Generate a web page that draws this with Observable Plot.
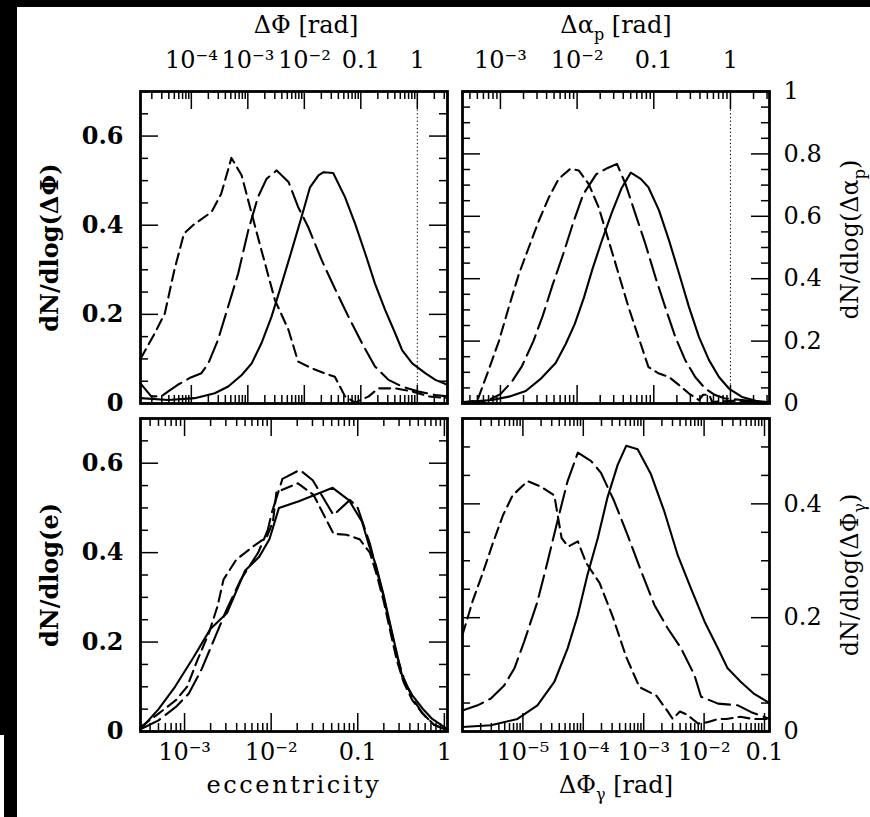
<!DOCTYPE html>
<html><head><meta charset="utf-8">
<script src="https://cdn.jsdelivr.net/npm/d3@7"></script>
<script src="https://cdn.jsdelivr.net/npm/@observablehq/plot@0.6"></script>
<style>
body{margin:0;background:#fff;}
#fig{position:relative;width:870px;height:817px;overflow:hidden;background:#fff;}
.pw{position:absolute;}
.pw svg{display:block;max-width:none;overflow:visible;}
.blk{position:absolute;background:#000;}
</style></head><body>
<div id="fig"></div>
<script>
// ---------- data (x values in native units, y = dN/dlog) ----------
const tlSolid = [[1.26e-5,0.012],[3.9e-5,0.008],[1.15e-4,0.012],[2.6e-4,0.023],[4.5e-4,0.038],[7.8e-4,0.064],[1.17e-3,0.090],[1.74e-3,0.135],[2.63e-3,0.195],[3.98e-3,0.269],[6.0e-3,0.344],[8.9e-3,0.418],[0.0126,0.485],[0.0178,0.512],[0.0219,0.519],[0.0324,0.517],[0.0525,0.463],[0.0794,0.403],[0.120,0.336],[0.178,0.269],[0.269,0.210],[0.407,0.157],[0.537,0.120],[0.813,0.090],[1.38,0.068],[2.09,0.053],[3.4,0.042]];
const tlLong = [[1.26e-5,0.045],[1.95e-5,0.016],[2.95e-5,0.016],[3.9e-5,0.027],[5.75e-5,0.042],[9.3e-5,0.057],[1.51e-4,0.068],[2.0e-4,0.090],[2.95e-4,0.142],[4.47e-4,0.217],[6.76e-4,0.292],[1.02e-3,0.389],[1.51e-3,0.463],[2.14e-3,0.504],[3.24e-3,0.523],[5.25e-3,0.497],[7.76e-3,0.441],[0.0117,0.396],[0.0204,0.321],[0.0347,0.258],[0.0603,0.195],[0.105,0.135],[0.178,0.083],[0.309,0.053],[0.537,0.038],[1.05,0.027],[2.09,0.019],[3.4,0.016]];
const tlShort = [[1.26e-5,0.10],[2.24e-5,0.157],[3.39e-5,0.202],[5.0e-5,0.299],[7.4e-5,0.381],[1.07e-4,0.400],[2.29e-4,0.430],[3.39e-4,0.471],[5.13e-4,0.551],[7.76e-4,0.512],[1.17e-3,0.426],[1.74e-3,0.344],[3.02e-3,0.232],[5.25e-3,0.165],[7.76e-3,0.094],[0.0135,0.079],[0.0251,0.066],[0.0347,0.060],[0.0525,0.016],[0.0794,0.002],[0.138,0.016],[0.204,0.034],[0.407,0.034],[0.813,0.027],[1.58,0.016],[3.4,0.012]];

const trSolid = [[3.2e-4,0.005],[7.76e-4,0.011],[1.29e-3,0.022],[2.14e-3,0.040],[3.31e-3,0.078],[5.25e-3,0.13],[7.08e-3,0.19],[9.33e-3,0.255],[0.0123,0.34],[0.0158,0.43],[0.0209,0.52],[0.0282,0.61],[0.0380,0.69],[0.0501,0.74],[0.0676,0.72],[0.0851,0.693],[0.117,0.619],[0.158,0.523],[0.214,0.416],[0.288,0.309],[0.389,0.213],[0.525,0.139],[0.708,0.085],[0.955,0.048],[1.41,0.021],[2.14,0.009],[3.23,0.003]];
const trLong = [[3.2e-4,0.002],[6.31e-4,0.005],[1.0e-3,0.030],[1.41e-3,0.070],[1.91e-3,0.12],[2.69e-3,0.20],[3.55e-3,0.28],[4.79e-3,0.38],[6.61e-3,0.48],[8.91e-3,0.58],[0.0120,0.67],[0.0178,0.735],[0.0251,0.755],[0.0331,0.768],[0.0427,0.704],[0.0575,0.608],[0.0776,0.512],[0.105,0.405],[0.141,0.309],[0.191,0.213],[0.257,0.139],[0.347,0.085],[0.468,0.048],[0.631,0.027],[0.851,0.016],[1.41,0.011],[3.23,0.004]];
const trShort = [[3.2e-4,0.002],[5.01e-4,0.01],[7.08e-4,0.11],[9.55e-4,0.20],[1.29e-3,0.31],[1.74e-3,0.415],[2.34e-3,0.50],[3.16e-3,0.585],[4.27e-3,0.66],[5.75e-3,0.72],[8.13e-3,0.752],[0.0105,0.747],[0.0141,0.704],[0.0191,0.629],[0.0257,0.523],[0.0347,0.416],[0.0468,0.309],[0.0631,0.213],[0.0851,0.117],[0.117,0.096],[0.158,0.085],[0.214,0.059],[0.288,0.032],[0.389,0.011],[0.44,0.028],[0.53,0.028],[0.575,0.005],[1.05,0.009],[1.74,0.005],[3.23,0.002]];

const blSolid = [[3.1e-4,0.005],[5.01e-4,0.05],[7.76e-4,0.10],[1.26e-3,0.165],[2.0e-3,0.23],[3.09e-3,0.265],[5.01e-3,0.36],[7.24e-3,0.39],[9.55e-3,0.43],[0.0123,0.50],[0.0209,0.515],[0.0513,0.545],[0.0794,0.517],[0.112,0.469],[0.135,0.416],[0.162,0.372],[0.195,0.312],[0.229,0.252],[0.275,0.185],[0.331,0.118],[0.427,0.081],[0.562,0.051],[0.724,0.028],[1.0,0.01],[1.08,0.004]];
const blLong = [[3.1e-4,0.005],[5.01e-4,0.025],[7.94e-4,0.055],[1.12e-3,0.085],[1.58e-3,0.14],[2.24e-3,0.21],[3.02e-3,0.27],[4.47e-3,0.34],[7.08e-3,0.40],[9.12e-3,0.45],[0.0102,0.49],[0.0135,0.565],[0.0214,0.585],[0.0302,0.562],[0.0525,0.484],[0.0813,0.518],[0.1,0.50],[0.138,0.42],[0.166,0.36],[0.20,0.30],[0.24,0.23],[0.282,0.17],[0.339,0.12],[0.427,0.075],[0.562,0.04],[0.759,0.015],[1.08,0.003]];
const blShort = [[3.1e-4,0.01],[5.01e-4,0.04],[7.94e-4,0.07],[1.07e-3,0.10],[1.41e-3,0.16],[1.91e-3,0.22],[2.40e-3,0.28],[2.82e-3,0.34],[3.98e-3,0.385],[6.31e-3,0.415],[8.91e-3,0.435],[0.0105,0.47],[0.0115,0.535],[0.0204,0.555],[0.0309,0.529],[0.0525,0.442],[0.0741,0.44],[0.105,0.43],[0.138,0.40],[0.166,0.35],[0.20,0.29],[0.24,0.22],[0.282,0.16],[0.339,0.11],[0.427,0.07],[0.562,0.04],[0.759,0.015],[1.08,0.003]];

const brSolid = [[1.0e-6,0.008],[2.95e-6,0.011],[8.13e-6,0.022],[1.74e-5,0.046],[3.31e-5,0.087],[5.50e-5,0.146],[8.13e-5,0.205],[1.17e-4,0.275],[1.74e-4,0.34],[2.51e-4,0.411],[3.72e-4,0.469],[5.13e-4,0.502],[7.94e-4,0.496],[1.32e-3,0.452],[2.19e-3,0.387],[3.63e-3,0.311],[6.03e-3,0.252],[0.0102,0.193],[0.0170,0.146],[0.0245,0.111],[0.0407,0.087],[0.0676,0.066],[0.121,0.050]];
const brLong = [[1.0e-6,0.037],[1.78e-6,0.046],[2.95e-6,0.058],[4.90e-6,0.081],[7.24e-6,0.111],[1.05e-5,0.158],[1.74e-5,0.228],[2.57e-5,0.299],[3.72e-5,0.369],[5.50e-5,0.44],[8.13e-5,0.49],[1.35e-4,0.475],[1.95e-4,0.455],[3.24e-4,0.405],[5.37e-4,0.346],[9.12e-4,0.281],[1.51e-3,0.222],[2.51e-3,0.181],[4.17e-3,0.146],[6.92e-3,0.099],[8.91e-3,0.061],[0.0170,0.049],[0.0363,0.046],[0.0603,0.034],[0.121,0.022]];
const brShort = [[1.0e-6,0.17],[1.48e-6,0.23],[2.19e-6,0.28],[3.16e-6,0.33],[4.68e-6,0.38],[6.76e-6,0.415],[1.20e-5,0.44],[2.0e-5,0.43],[3.31e-5,0.415],[4.37e-5,0.34],[5.62e-5,0.325],[8.13e-5,0.334],[1.12e-4,0.296],[1.86e-4,0.261],[3.09e-4,0.201],[5.13e-4,0.131],[8.51e-4,0.078],[1.62e-3,0.063],[2.51e-3,0.035],[3.02e-3,0.022],[3.98e-3,0.035],[5.13e-3,0.03],[7.94e-3,0.014],[0.011,0.016],[0.017,0.022],[0.0234,0.022],[0.0398,0.026],[0.0631,0.022],[0.121,0.022]];

// ---------- tick labels ----------
const tlXTicks = [1e-4, 1e-3, 1e-2, 0.1, 1];
const trXTicks = [1e-3, 1e-2, 0.1, 1];
const blXTicks = [1e-3, 1e-2, 0.1, 1];
const brXTicks = [1e-5, 1e-4, 1e-3, 1e-2, 0.1];
const tlYTicks = [0, 0.2, 0.4, 0.6];
const trYTicks = [0, 0.2, 0.4, 0.6, 0.8, 1];
const blYTicks = [0, 0.2, 0.4, 0.6];
const brYTicks = [0, 0.2, 0.4];

// ---------- labels ----------
const tlXTitle = "ΔΦ [rad]", trXTitle = "Δα_p [rad]", blXTitle = "eccentricity", brXTitle = "ΔΦ_γ [rad]";
const tlYTitle = "dN/dlog(ΔΦ)", trYTitle = "dN/dlog(Δα_p)", blYTitle = "dN/dlog(e)", brYTitle = "dN/dlog(ΔΦ_γ)";

const SUP = {"-":"⁻","0":"⁰","1":"¹","2":"²","3":"³","4":"⁴","5":"⁵","6":"⁶","7":"⁷","8":"⁸","9":"⁹"};
function fmtLog(v){
  const e = Math.round(Math.log10(v));
  if (e >= 0) return String(Math.round(v));
  if (e === -1) return "0.1";
  return "10" + String(e).split("").map(c => SUP[c]).join("");
}
function fmtLin(v){ return v === 0 ? "0" : v === 1 ? "1" : String(+v.toFixed(2)); }

const FONT = "DejaVu Serif";
const DASH = {solid: null, long: "22,7", short: "11,6"};

function panel(o){
  const fw = o.width - o.ml - o.mr, fh = o.height - o.mt - o.mb;
  const all = d3.scaleLog().domain(o.xDomain).ticks();
  const isMaj = v => Math.abs(Math.log10(v) - Math.round(Math.log10(v))) < 1e-6;
  const xMaj = all.filter(isMaj), xMin = all.filter(v => !isMaj(v));
  const yAll = d3.range(0, Math.round(o.yMax / 0.05) + 1).map(i => +(i * 0.05).toFixed(2));
  const yMaj = yAll.filter(v => Math.abs(v / 0.2 - Math.round(v / 0.2)) < 1e-6);
  const yMin = yAll.filter(v => !yMaj.includes(v));
  const MAJ = 18, MIN = 8;
  const ts = {stroke: "#000", strokeWidth: 1.5};
  const txt = {fontFamily: FONT, fontSize: 24, fill: "#000"};
  const marks = [
    Plot.tickX(xMaj, {x: d => d, insetTop: fh - MAJ, ...ts}),
    Plot.tickX(xMaj, {x: d => d, insetBottom: fh - MAJ, ...ts}),
    Plot.tickX(xMin, {x: d => d, insetTop: fh - MIN, ...ts}),
    Plot.tickX(xMin, {x: d => d, insetBottom: fh - MIN, ...ts}),
    Plot.tickY(yMaj, {y: d => d, insetRight: fw - MAJ, ...ts}),
    Plot.tickY(yMaj, {y: d => d, insetLeft: fw - MAJ, ...ts}),
    Plot.tickY(yMin, {y: d => d, insetRight: fw - MIN, ...ts}),
    Plot.tickY(yMin, {y: d => d, insetLeft: fw - MIN, ...ts})
  ];
  if (o.dotted) marks.push(Plot.ruleX([o.dotted], {x: d => d, stroke: "#000", strokeWidth: 1, strokeDasharray: "1.3,2.4"}));
  for (const [data, kind] of o.series) {
    const opt = {x: d => d[0], y: d => d[1], stroke: "#000", strokeWidth: 2.1, strokeLinejoin: "round"};
    if (DASH[kind]) opt.strokeDasharray = DASH[kind];
    marks.push(Plot.line(data, opt));
  }
  marks.push(Plot.frame({stroke: "#000", strokeWidth: 2.8}));
  const top = o.xSide === "top";
  marks.push(Plot.text(o.xTicks, {x: d => d, text: fmtLog, frameAnchor: o.xSide, textAnchor: "middle", dy: top ? -41 : 28, ...txt}));
  marks.push(Plot.text([o.xTitle], {text: d => d, frameAnchor: o.xSide, textAnchor: "middle", dy: top ? -76 : 61, dx: o.xTitleDx || 0, ...txt}));
  const left = o.ySide === "left";
  marks.push(Plot.text(o.yTicks, {y: d => d, text: fmtLin, frameAnchor: o.ySide, dx: left ? -17 : 14, textAnchor: left ? "end" : "start", fontWeight: left ? "bold" : "normal", ...txt}));
  marks.push(Plot.text([o.yTitle], {text: d => d, frameAnchor: o.ySide, textAnchor: "middle", dx: left ? -90 : 81, dy: o.yTitleDy || 0, rotate: -90, fontWeight: left ? "bold" : "normal", ...txt}));

  const svg = Plot.plot({
    width: o.width, height: o.height,
    marginLeft: o.ml, marginRight: o.mr, marginTop: o.mt, marginBottom: o.mb,
    x: {type: "log", domain: o.xDomain, axis: null},
    y: {type: "linear", domain: [0, o.yMax], axis: null},
    style: {background: "transparent", overflow: "visible"},
    marks
  });
  // subscripts and spacing
  svg.querySelectorAll("text").forEach(t => {
    const s = t.textContent;
    if (s === "eccentricity") t.setAttribute("letter-spacing", "2.6");
    if (!s.includes("_")) return;
    const i = s.indexOf("_");
    t.textContent = "";
    const mk = (str, attrs) => {
      const sp = document.createElementNS("http://www.w3.org/2000/svg", "tspan");
      sp.textContent = str;
      for (const k in attrs) sp.setAttribute(k, attrs[k]);
      t.appendChild(sp);
    };
    mk(s.slice(0, i), {});
    mk(s[i + 1], {dy: "7", "font-size": "16"});
    mk(s.slice(i + 2), {dy: "-7"});
  });
  const wrap = document.createElement("div");
  wrap.className = "pw";
  wrap.style.left = o.left + "px"; wrap.style.top = o.top + "px";
  wrap.style.width = o.width + "px"; wrap.style.height = o.height + "px";
  wrap.appendChild(svg);
  document.getElementById("fig").appendChild(wrap);
}

panel({left: 0, top: 0, width: 455, height: 410, ml: 140, mr: 8, mt: 91, mb: 7,
  xDomain: [1.26e-5, 3.42], yMax: 0.7, series: [[tlSolid, "solid"], [tlLong, "long"], [tlShort, "short"]],
  xTicks: tlXTicks, yTicks: tlYTicks, xSide: "top", ySide: "left", xTitle: tlXTitle, yTitle: tlYTitle, dotted: 1, xTitleDx: 12});
panel({left: 455, top: 0, width: 415, height: 410, ml: 7, mr: 101, mt: 91, mb: 7,
  xDomain: [3.2e-4, 3.23], yMax: 1.0, series: [[trSolid, "solid"], [trLong, "long"], [trShort, "short"]],
  xTicks: trXTicks, yTicks: trYTicks, xSide: "top", ySide: "right", xTitle: trXTitle, yTitle: trYTitle, dotted: 1, yTitleDy: -8});
panel({left: 0, top: 410, width: 455, height: 407, ml: 140, mr: 8, mt: 8, mb: 86,
  xDomain: [3.1e-4, 1.087], yMax: 0.7, series: [[blSolid, "solid"], [blLong, "long"], [blShort, "short"]],
  xTicks: blXTicks, yTicks: blYTicks, xSide: "bottom", ySide: "left", xTitle: blXTitle, yTitle: blYTitle});
panel({left: 455, top: 410, width: 415, height: 407, ml: 7, mr: 101, mt: 8, mb: 86,
  xDomain: [1e-6, 0.121], yMax: 0.55, series: [[brSolid, "solid"], [brLong, "long"], [brShort, "short"]],
  xTicks: brXTicks, yTicks: brYTicks, xSide: "bottom", ySide: "right", xTitle: brXTitle, yTitle: brYTitle});

// black scan borders
const fig = document.getElementById("fig");
[[0,0,870,7],[0,0,17,735],[4,735,13,82]].forEach(([l,t,w,h]) => {
  const d = document.createElement("div"); d.className = "blk";
  d.style.left = l + "px"; d.style.top = t + "px"; d.style.width = w + "px"; d.style.height = h + "px";
  fig.appendChild(d);
});
</script>
</body></html>
